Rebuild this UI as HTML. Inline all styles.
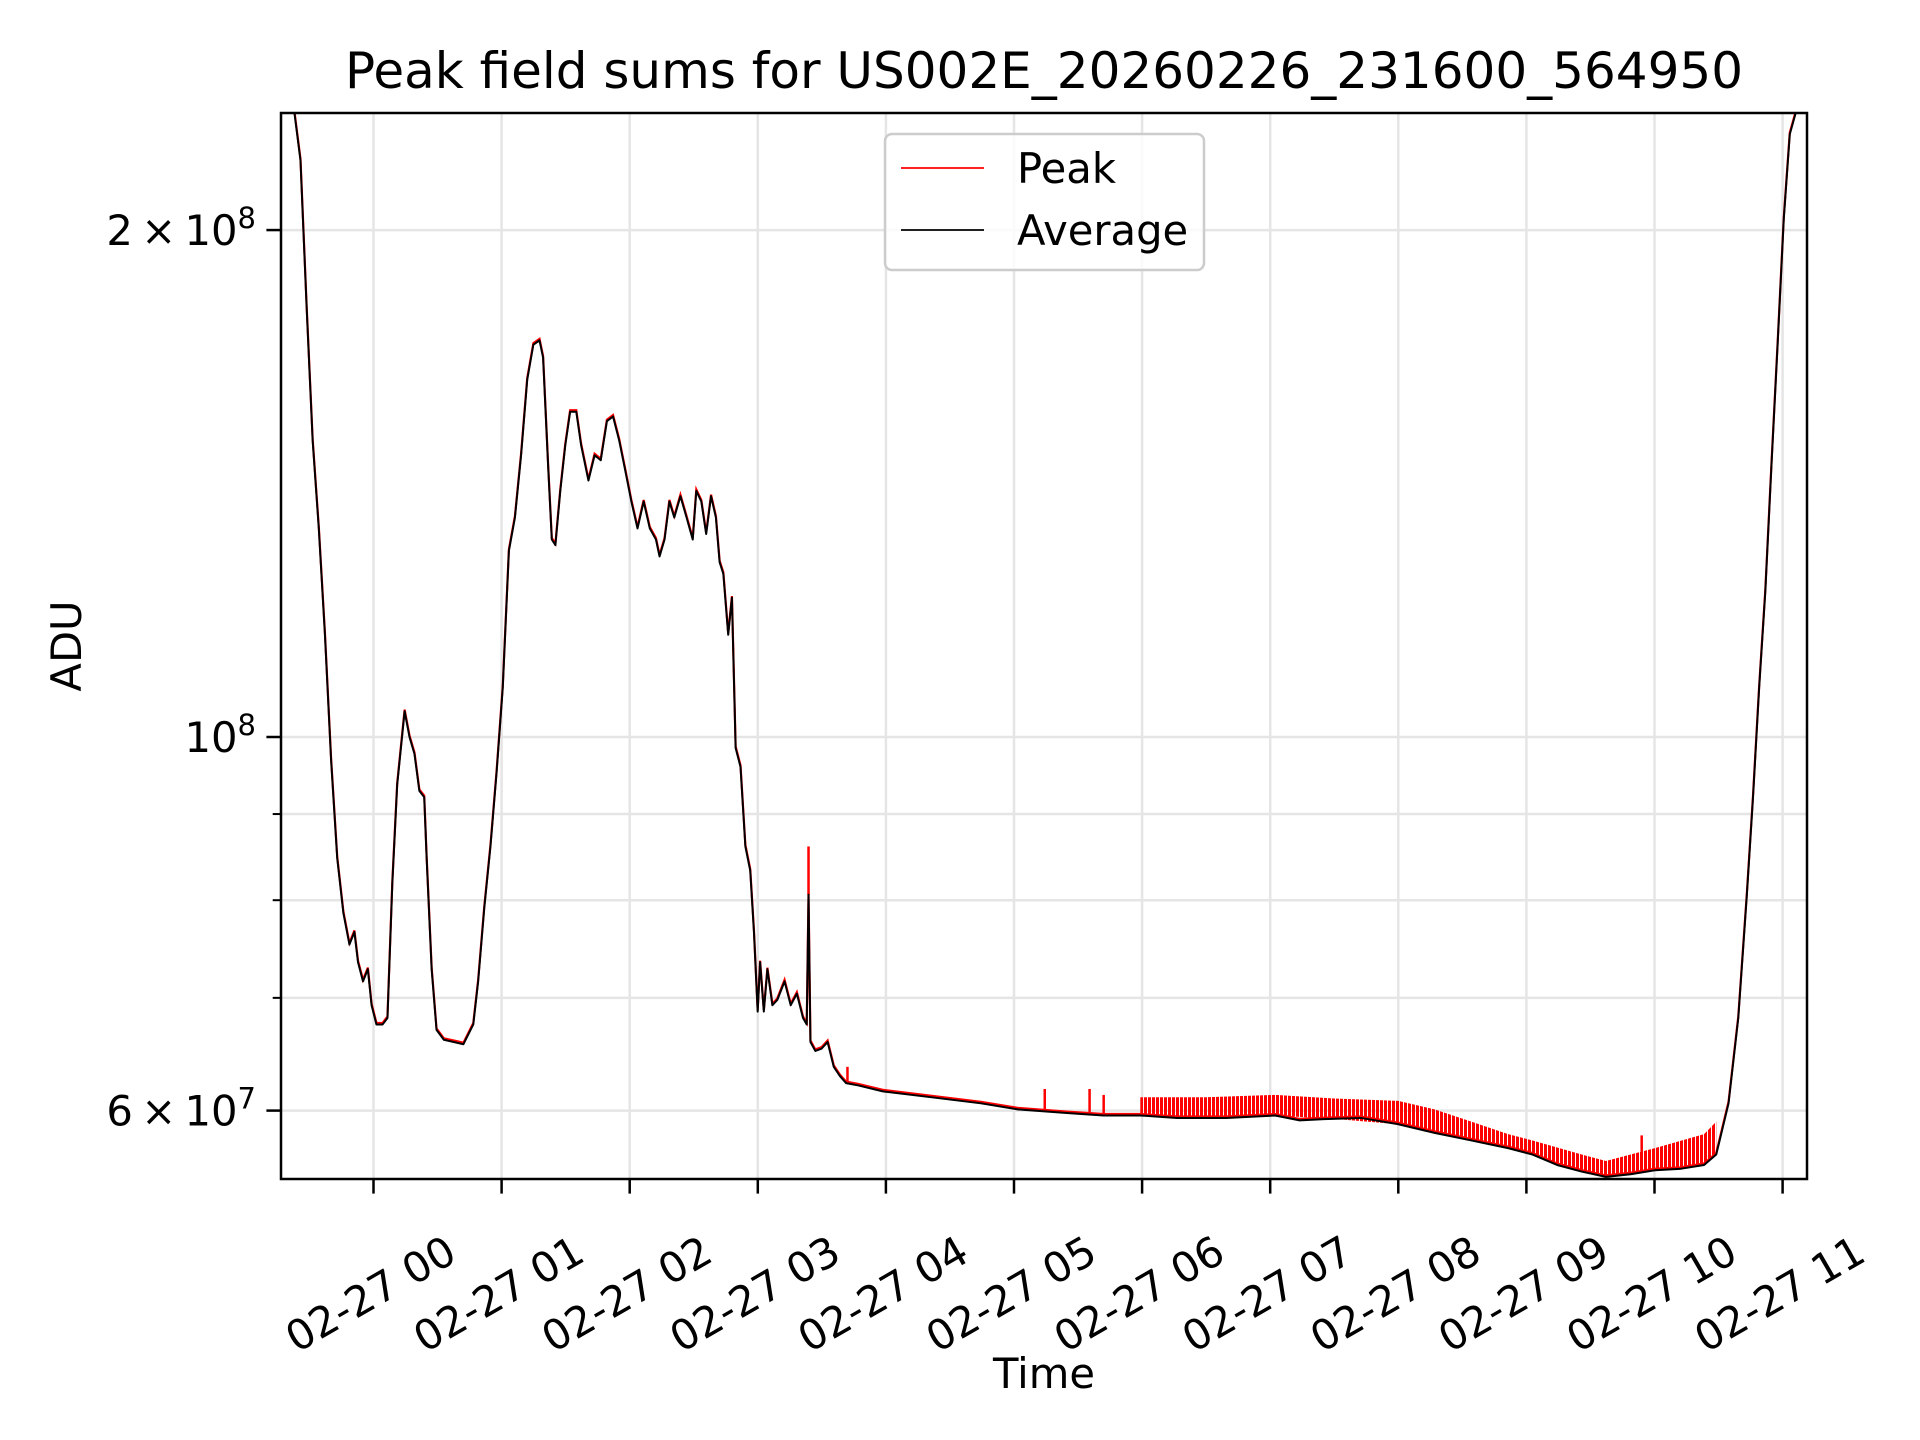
<!DOCTYPE html>
<html><head><meta charset="utf-8"><title>Peak field sums</title>
<style>html,body{margin:0;padding:0;background:#fff;}svg{display:block;font-family:"DejaVu Sans","Liberation Sans",sans-serif;}</style>
</head><body>
<svg id="chart" width="1920" height="1440" viewBox="0 0 1920 1440" xmlns="http://www.w3.org/2000/svg">
<defs>
<pattern id="stripes" patternUnits="userSpaceOnUse" width="4" height="10"><rect x="0" y="0" width="3" height="10" fill="#ff0000"/></pattern>
<clipPath id="plotclip"><rect x="281" y="113" width="1526" height="1066"/></clipPath>
</defs>
<rect width="1920" height="1440" fill="#fff"/>
<g id="grid"></g>
<g id="series" clip-path="url(#plotclip)"></g>
<g id="axes"></g>
<text x="1044" y="88" font-size="50" text-anchor="middle">Peak field sums for US002E_20260226_231600_564950</text>
<text x="1044" y="1388" font-size="41.7" text-anchor="middle">Time</text>
<text transform="translate(81,646) rotate(-90)" font-size="41.7" text-anchor="middle">ADU</text>
<g>
<rect x="885" y="134" width="319" height="136" rx="7" fill="#fff" fill-opacity="0.8" stroke="#cccccc" stroke-width="2.5"/>
<line x1="901" y1="168" x2="984" y2="168" stroke="#ff0000" stroke-width="1.8"/>
<text x="1017" y="183" font-size="41.7">Peak</text>
<line x1="901" y1="230" x2="984" y2="230" stroke="#000" stroke-width="1.8"/>
<text x="1017" y="245" font-size="41.7">Average</text>
</g>
</svg>
<script>
// hours relative to 02-27 00:00; values in units of 1e7 ADU
const avgHours = [-0.723,-0.618,-0.570,-0.522,-0.475,-0.427,-0.379,-0.331,-0.283,-0.235,-0.188,-0.149,-0.121,-0.082,-0.044,-0.015,0.023,0.071,0.109,0.147,0.185,0.243,0.281,0.320,0.358,0.396,0.415,0.454,0.492,0.549,0.626,0.702,0.779,0.817,0.865,0.913,0.961,1.009,1.057,1.104,1.152,1.200,1.248,1.296,1.324,1.363,1.392,1.420,1.458,1.497,1.535,1.583,1.621,1.678,1.726,1.774,1.822,1.870,1.918,1.965,2.013,2.061,2.109,2.157,2.205,2.233,2.272,2.310,2.348,2.396,2.444,2.492,2.520,2.559,2.597,2.635,2.673,2.702,2.731,2.769,2.798,2.827,2.865,2.903,2.941,2.970,2.999,3.018,3.047,3.075,3.114,3.152,3.209,3.257,3.305,3.353,3.382,3.396,3.411,3.449,3.497,3.545,3.593,3.641,3.689,3.785,3.976,4.359,4.742,5.028,5.411,5.699,5.986,6.273,6.656,7.038,7.230,7.421,7.708,7.996,8.283,8.570,8.857,9.048,9.240,9.431,9.621,9.813,10.004,10.196,10.387,10.482,10.578,10.654,10.721,10.769,10.817,10.865,10.913,10.961,11.009,11.056,11.104];
const avgValues = [23.5,23.5,22.0,18.0,15.0,13.3,11.5,9.69,8.47,7.86,7.53,7.66,7.35,7.16,7.28,6.93,6.75,6.75,6.81,8.19,9.37,10.36,10.0,9.77,9.29,9.21,8.47,7.28,6.70,6.61,6.59,6.57,6.75,7.16,7.92,8.61,9.53,10.7,12.9,13.5,14.7,16.3,17.1,17.2,16.8,14.5,13.1,13.0,14.0,14.9,15.6,15.6,14.9,14.2,14.7,14.6,15.4,15.5,15.0,14.4,13.8,13.3,13.8,13.3,13.1,12.8,13.1,13.8,13.5,13.9,13.5,13.1,14.0,13.8,13.2,13.9,13.5,12.7,12.5,11.5,12.1,9.85,9.60,8.61,8.33,7.66,6.87,7.35,6.87,7.28,6.93,6.98,7.16,6.93,7.04,6.81,6.75,8.06,6.59,6.51,6.53,6.59,6.37,6.29,6.23,6.21,6.16,6.11,6.06,6.01,5.98,5.96,5.96,5.94,5.94,5.96,5.92,5.93,5.94,5.89,5.82,5.76,5.70,5.65,5.57,5.52,5.48,5.50,5.53,5.54,5.57,5.65,6.06,6.81,8.06,9.21,10.7,12.2,14.5,17.1,20.3,22.8,23.5];
// upper envelope of the noisy peak series
const peakHours = [5.986,6.5,7.038,7.5,8.0,8.283,8.570,8.857,9.048,9.431,9.621,10.004,10.387,10.482];
const peakValues = [6.11,6.11,6.13,6.10,6.08,6.01,5.91,5.81,5.76,5.65,5.60,5.70,5.81,5.91];
// isolated peak spikes
const spikeHours = [3.396,3.70,5.24,5.59,5.70,9.90];
const spikeValues = [8.61,6.37,6.18,6.18,6.13,5.80];
const xTickHours = [0,1,2,3,4,5,6,7,8,9,10,11];
const xTickLabels = ["02-27 00","02-27 01","02-27 02","02-27 03","02-27 04","02-27 05","02-27 06","02-27 07","02-27 08","02-27 09","02-27 10","02-27 11"];
const yMajorTicks = [20,10,6];
const yMinorTicks = [7,8,9];

const NS="http://www.w3.org/2000/svg";
const L=281,R=1807,T=113,B=1179;
const X0=373.5,PXH=128.1;
const Y1E8=737,PXDEC=1684;
function xs(h){return X0+h*PXH;}
function ys(v){return Y1E8-Math.log10(v/10)*PXDEC;}
function mk(tag,attrs,parent){const e=document.createElementNS(NS,tag);for(const k in attrs)e.setAttribute(k,attrs[k]);parent.appendChild(e);return e;}
function interp(h){for(let i=0;i<avgHours.length-1;i++){if(h>=avgHours[i]&&h<=avgHours[i+1]){const t=(h-avgHours[i])/(avgHours[i+1]-avgHours[i]);return Math.exp(Math.log(avgValues[i])*(1-t)+Math.log(avgValues[i+1])*t);}}return avgValues[avgValues.length-1];}

const grid=document.getElementById('grid'),series=document.getElementById('series'),axes=document.getElementById('axes');
xTickHours.forEach((h,i)=>{
  const x=xs(h);
  const gl=mk('line',{x1:x,y1:T,x2:x,y2:B,stroke:'#e5e5e5','stroke-width':2.5},grid);
  
  
  const tk=mk('line',{x1:x,y1:B,x2:x,y2:B+14.6,stroke:'#000','stroke-width':2.5},axes);
  
  
  const t=mk('text',{x:0,y:0,'font-size':41.7,'text-anchor':'middle','dominant-baseline':'central',transform:`translate(${x-3},${1294}) rotate(-30)`},axes);
  t.textContent=xTickLabels[i];
  
  
});
yMajorTicks.concat(yMinorTicks).forEach(v=>{
  const y=ys(v);
  const gl=mk('line',{x1:L,y1:y,x2:R,y2:y,stroke:'#e5e5e5','stroke-width':2.5},grid);
  
  
});
yMinorTicks.forEach(v=>{
  const tk=mk('line',{x1:L-8.3,y1:ys(v),x2:L,y2:ys(v),stroke:'#000','stroke-width':2},axes);
  
  
});
yMajorTicks.forEach(v=>{
  const y=ys(v);
  const tk=mk('line',{x1:L-14.6,y1:y,x2:L,y2:y,stroke:'#000','stroke-width':2.5},axes);
  
  
  const t=mk('text',{x:L-25,y:y+15,'font-size':41.7,'text-anchor':'end'},axes);
  
  
  const exp=v>=10?8:7, mant=v>=10?v/10:v;
  const pre=mant===1?'10':(mant+'\u2009\u00d7\u200910');
  t.appendChild(document.createTextNode(pre));
  const s=mk('tspan',{dy:-17,'font-size':29},t);s.textContent=String(exp);
});
// peak band (dense spikes)
let pts=peakHours.map((h,i)=>xs(h)+','+ys(peakValues[i]));
for(let i=peakHours.length-1;i>=0;i--){pts.push(xs(peakHours[i])+','+ys(interp(peakHours[i])));}
const band=mk('polygon',{points:pts.join(' '),fill:'url(#stripes)'},series);


const peakLine=mk('polyline',{points:avgHours.map((h,i)=>xs(h)+','+(ys(avgValues[i])-1.5)).join(' '),fill:'none',stroke:'#ff0000','stroke-width':2.2},series);


spikeHours.forEach((h,i)=>{
  const sp=mk('line',{x1:xs(h),y1:ys(interp(h)),x2:xs(h),y2:ys(spikeValues[i]),stroke:'#ff0000','stroke-width':2.5},series);
  
  
});
const avgLine=mk('polyline',{points:avgHours.map((h,i)=>xs(h)+','+ys(avgValues[i])).join(' '),fill:'none',stroke:'#000','stroke-width':2,'stroke-linejoin':'round'},series);


const frame=mk('rect',{x:L,y:T,width:R-L,height:B-T,fill:'none',stroke:'#000','stroke-width':2.5},axes);


</script>
</body></html>
